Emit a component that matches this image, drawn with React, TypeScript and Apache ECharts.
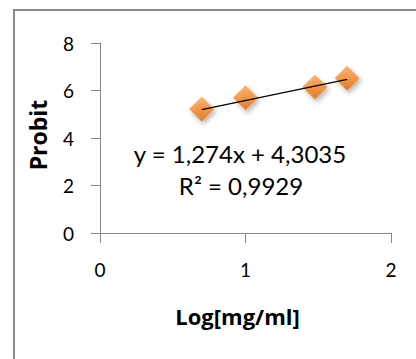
import React, { useEffect, useRef } from "react";
import * as echarts from "echarts";

const logConc: number[] = [0.699, 1.0, 1.477, 1.699];
const probit: number[] = [5.22, 5.7, 6.15, 6.52];
const slope = 1.274;
const intercept = 4.3035;
const equationText = "y = 1,274x + 4,3035";
const r2Text = "R² = 0,9929";
const xTicks = [0, 1, 2];
const yTicks = [0, 2, 4, 6, 8];

const FONT = "Lato, 'Noto Sans', sans-serif";
const TITLE_FONT = "'Open Sans', 'Noto Sans', sans-serif";

export default function App() {
  const ref = useRef<HTMLDivElement>(null);
  useEffect(() => {
    document.body.style.margin = "0";
    if (!ref.current) return;
    const chart = echarts.init(ref.current, null, { renderer: "svg" });
    const xMin = logConc[0];
    const xMax = logConc[logConc.length - 1];
    const trend = [
      [xMin, intercept + slope * xMin],
      [xMax, intercept + slope * xMax],
    ];
    chart.setOption({
      animation: false,
      backgroundColor: "#ffffff",
      grid: { left: 100, right: 25, top: 43, bottom: 126, containLabel: false },
      xAxis: {
        type: "value",
        min: xTicks[0],
        max: xTicks[xTicks.length - 1],
        interval: 1,
        name: "Log[mg/ml]",
        nameLocation: "middle",
        nameGap: 72,
        nameTextStyle: {
          fontFamily: TITLE_FONT,
          fontWeight: "bold",
          fontSize: 22,
          color: "#000",
          padding: [0, 16, 0, 0],
        },
        axisLine: { show: true, lineStyle: { color: "#888888", width: 1 } },
        axisTick: { show: true, length: 10, lineStyle: { color: "#888888" } },
        axisLabel: { fontFamily: FONT, fontSize: 19, color: "#000", margin: 27 },
        splitLine: { show: false },
      },
      yAxis: {
        type: "value",
        min: yTicks[0],
        max: yTicks[yTicks.length - 1],
        interval: 2,
        name: "Probit",
        nameLocation: "middle",
        nameGap: 51,
        nameTextStyle: {
          fontFamily: TITLE_FONT,
          fontWeight: "bold",
          fontSize: 23,
          color: "#000",
          padding: [0, 0, 0, 6],
        },
        axisLine: { show: true, lineStyle: { color: "#888888", width: 1 } },
        axisTick: { show: true, length: 9, lineStyle: { color: "#888888" } },
        axisLabel: { fontFamily: FONT, fontSize: 19, color: "#000", margin: 26 },
        splitLine: { show: false },
      },
      series: [
        {
          type: "scatter",
          data: logConc.map((x, i) => [x, probit[i]]),
          symbol: "diamond",
          symbolSize: 25,
          z: 2,
          itemStyle: {
            color: new echarts.graphic.LinearGradient(0, 0, 0, 1, [
              { offset: 0, color: "#FBA257" },
              { offset: 0.5, color: "#F58A25" },
              { offset: 1, color: "#DD6A0C" },
            ]),
            shadowColor: "rgba(0,0,0,0.35)",
            shadowBlur: 5,
            shadowOffsetX: 2,
            shadowOffsetY: 3,
          },
        },
        {
          type: "line",
          data: trend,
          symbol: "none",
          z: 3,
          lineStyle: { color: "#000000", width: 1.3 },
        },
      ],
      graphic: [
        {
          type: "rect",
          shape: { x: 14, y: 10, width: 440, height: 380 },
          style: { fill: "none", stroke: "#8a8a8a", lineWidth: 2 },
          silent: true,
        },
        {
          type: "text",
          x: 240,
          y: 153,
          style: {
            text: equationText,
            fontFamily: FONT,
            fontSize: 24,
            fill: "#000",
            align: "center",
            verticalAlign: "middle",
          },
        },
        {
          type: "text",
          x: 241,
          y: 185,
          style: {
            text: r2Text,
            fontFamily: FONT,
            fontSize: 24,
            fill: "#000",
            align: "center",
            verticalAlign: "middle",
          },
        },
      ],
    });
    return () => chart.dispose();
  }, []);
  return <div ref={ref} style={{ width: 416, height: 359 }} />;
}
